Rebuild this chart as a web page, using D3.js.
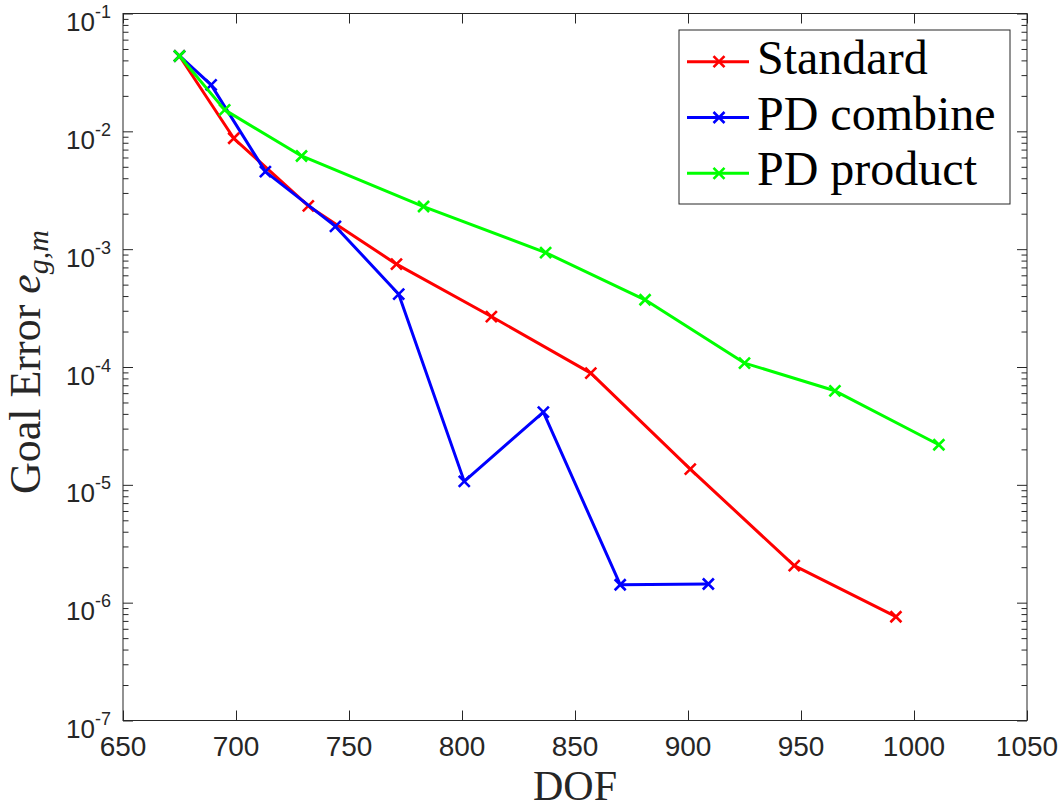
<!DOCTYPE html>
<html>
<head>
<meta charset="utf-8">
<script src="https://cdn.jsdelivr.net/npm/d3@7"></script>
<style>
  body { margin: 0; background: #fff; }
  svg { display: block; }
  .serif { font-family: "Liberation Serif", "Times New Roman", serif; }
  .sans { font-family: "Liberation Sans", Arial, sans-serif; }
</style>
</head>
<body>
<svg width="1061" height="809"></svg>
<script>
// data
const stdDof = [675, 699, 732, 771, 813, 857, 901, 947, 992];
const stdErr = [0.0436, 0.00873, 0.00233, 7.46e-4, 2.68e-4, 8.87e-5, 1.36e-5, 2.06e-6, 7.6e-7];

const combDof = [675, 689, 713, 744, 772, 801, 836, 870, 909];
const combErr = [0.0436, 0.0248, 0.00455, 0.00156, 4.15e-4, 1.07e-5, 4.14e-5, 1.42e-6, 1.44e-6];

const prodDof = [675, 695, 729, 783, 837, 881, 925, 965, 1011];
const prodErr = [0.0436, 0.0152, 0.00618, 0.0023, 9.35e-4, 3.72e-4, 1.08e-4, 6.28e-5, 2.19e-5];

const seriesNames = ["Standard", "PD combine", "PD product"];
const seriesColors = ["#ff0000", "#0000ff", "#00ff00"];
const xTicks = [650, 700, 750, 800, 850, 900, 950, 1000, 1050];
const yExponents = [-7, -6, -5, -4, -3, -2, -1];

const series = [
  { name: seriesNames[0], color: seriesColors[0], pts: stdDof.map((d, i) => [d, stdErr[i]]) },
  { name: seriesNames[1], color: seriesColors[1], pts: combDof.map((d, i) => [d, combErr[i]]) },
  { name: seriesNames[2], color: seriesColors[2], pts: prodDof.map((d, i) => [d, prodErr[i]]) }
];

const svg = d3.select("svg");
const axisColor = "#262626";
const mLeft = 123, mRight = 1027, mTop = 13.5, mBottom = 720.5;

const x = d3.scaleLinear().domain([650, 1050]).range([mLeft, mRight]);
const y = d3.scaleLog().domain([1e-7, 1e-1]).range([mBottom, mTop]);

// minor ticks for the log axis
const minorY = [];
yExponents.slice(0, -1).forEach(e => {
  for (let k = 2; k <= 9; k++) minorY.push(k * Math.pow(10, e));
});
const majorY = yExponents.map(e => Math.pow(10, e));

function styleAxis(g) {
  g.select(".domain").remove();
  g.selectAll("line").attr("stroke", axisColor).attr("stroke-width", 1);
}

// x ticks, bottom and top (inward)
svg.append("g").attr("transform", `translate(0,${mBottom})`)
  .call(d3.axisBottom(x).tickValues(xTicks).tickSize(-10).tickFormat(""))
  .call(styleAxis);
svg.append("g").attr("transform", `translate(0,${mTop})`)
  .call(d3.axisTop(x).tickValues(xTicks).tickSize(-10).tickFormat(""))
  .call(styleAxis);

// y ticks, left and right
[[d3.axisLeft, mLeft], [d3.axisRight, mRight]].forEach(([ax, pos]) => {
  svg.append("g").attr("transform", `translate(${pos},0)`)
    .call(ax(y).tickValues(majorY).tickSize(-10).tickFormat(""))
    .call(styleAxis);
  svg.append("g").attr("transform", `translate(${pos},0)`)
    .call(ax(y).tickValues(minorY).tickSize(-5.5).tickFormat(""))
    .call(styleAxis);
});

// box
svg.append("rect")
  .attr("x", mLeft).attr("y", mTop)
  .attr("width", mRight - mLeft).attr("height", mBottom - mTop)
  .attr("fill", "none").attr("stroke", axisColor).attr("stroke-width", 1);

// x tick labels
svg.append("g").selectAll("text")
  .data(xTicks).enter().append("text")
  .attr("class", "sans")
  .attr("x", d => x(d)).attr("y", 756)
  .attr("text-anchor", "middle")
  .attr("font-size", 28)
  .attr("fill", axisColor)
  .text(d => d);

// y tick labels 10^k
const yl = svg.append("g").selectAll("text")
  .data(yExponents).enter().append("text")
  .attr("class", "sans")
  .attr("x", 111).attr("y", d => y(Math.pow(10, d)) + 17.5)
  .attr("text-anchor", "end")
  .attr("fill", axisColor);
yl.append("tspan").attr("font-size", 26).text("10");
yl.append("tspan").attr("font-size", 18).attr("dy", -13).text(d => d);

// lines
const line = d3.line().x(d => x(d[0])).y(d => y(d[1]));
const plot = svg.append("g");

function cross(g, cx, cy, color) {
  const s = 5.5;
  g.append("path")
    .attr("d", `M${cx - s},${cy - s}L${cx + s},${cy + s}M${cx - s},${cy + s}L${cx + s},${cy - s}`)
    .attr("stroke", color).attr("stroke-width", 2.6).attr("fill", "none");
}

series.forEach(s => {
  plot.append("path").datum(s.pts)
    .attr("d", line)
    .attr("fill", "none")
    .attr("stroke", s.color)
    .attr("stroke-width", 3)
    .attr("stroke-linejoin", "round");
  const mg = plot.append("g");
  s.pts.forEach(p => cross(mg, x(p[0]), y(p[1]), s.color));
});

// legend
const lg = svg.append("g");
lg.append("rect")
  .attr("x", 679).attr("y", 30).attr("width", 331).attr("height", 174)
  .attr("fill", "#fff").attr("stroke", axisColor).attr("stroke-width", 1);
series.forEach((s, i) => {
  const cy = 61.7 + i * 55.8;
  lg.append("line")
    .attr("x1", 687).attr("x2", 749).attr("y1", cy).attr("y2", cy)
    .attr("stroke", s.color).attr("stroke-width", 3);
  cross(lg, 719, cy, s.color);
  lg.append("text")
    .attr("class", "serif")
    .attr("x", 757).attr("y", cy + 12)
    .attr("font-size", 48)
    .attr("fill", "#000")
    .text(s.name);
});

// axis titles
svg.append("text")
  .attr("class", "serif")
  .attr("x", (mLeft + mRight) / 2).attr("y", 800)
  .attr("text-anchor", "middle")
  .attr("font-size", 42)
  .attr("fill", axisColor)
  .text("DOF");

const yt = svg.append("text")
  .attr("class", "serif")
  .attr("transform", "translate(40,362) rotate(-90)")
  .attr("text-anchor", "middle")
  .attr("font-size", 44)
  .attr("fill", axisColor);
yt.append("tspan").text("Goal Error ");
yt.append("tspan").attr("font-style", "italic").text("e");
yt.append("tspan").attr("font-style", "italic").attr("font-size", 30).attr("dy", 8).text("g,m");
</script>
</body>
</html>
